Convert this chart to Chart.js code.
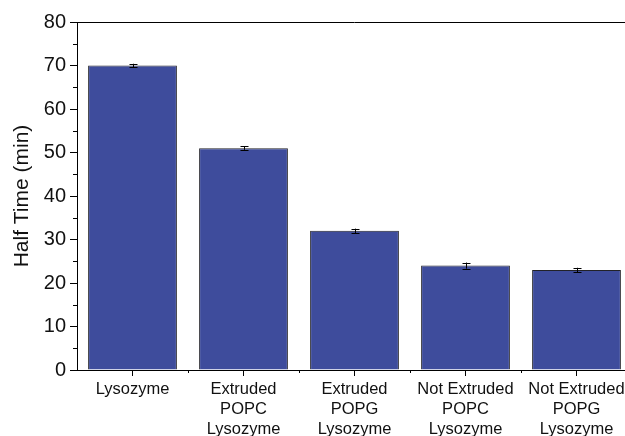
<!DOCTYPE html>
<html>
<head>
<meta charset="utf-8">
<script src="https://cdn.jsdelivr.net/npm/chart.js@4.4.1/dist/chart.umd.min.js"></script>
<style>
    html, body { margin: 0; padding: 0; background: #fff; overflow: hidden; }
    #chart { display: block; }
</style>
</head>
<body>
<canvas id="chart" width="640" height="436"></canvas>
<script>
// data
const categories = [
    ["Lysozyme"],
    ["Extruded", "POPC", "Lysozyme"],
    ["Extruded", "POPG", "Lysozyme"],
    ["Not Extruded", "POPC", "Lysozyme"],
    ["Not Extruded", "POPG", "Lysozyme"]
];
const halfTimes = [70, 51, 32, 24, 23];
const halfTimeErrors = [0.4, 0.4, 0.5, 0.7, 0.5];
const yTicksMin = 0;
const yTicksMax = 80;
const yTickStep = 10;

const FONT = "'Liberation Sans', Arial, sans-serif";

// minor ticks, top frame line and error bars
const extrasPlugin = {
    id: "extras",
    afterDatasetsDraw(chart) {
        const ctx = chart.ctx;
        const area = chart.chartArea;
        const xs = chart.scales.x;
        const ys = chart.scales.y;

        ctx.save();
        ctx.strokeStyle = "#000";
        ctx.lineWidth = 1;

        // top frame
        ctx.beginPath();
        ctx.moveTo(area.left, area.top + 0.5);
        ctx.lineTo(area.right, area.top + 0.5);
        ctx.stroke();

        // y minor ticks
        ctx.beginPath();
        for (let v = yTicksMin + yTickStep / 2; v < yTicksMax; v += yTickStep) {
            const py = Math.round(ys.getPixelForValue(v)) + 0.5;
            ctx.moveTo(area.left, py);
            ctx.lineTo(area.left - 4, py);
        }
        // x minor ticks between categories
        for (let i = 0; i < categories.length; i++) {
            const px = Math.round(xs.getPixelForValue(i + 0.5)) + 0.5;
            ctx.moveTo(px, area.bottom);
            ctx.lineTo(px, area.bottom + 3);
        }
        ctx.stroke();

        // error bars
        const meta = chart.getDatasetMeta(0);
        ctx.beginPath();
        meta.data.forEach((bar, i) => {
            const x = Math.round(bar.x) + 0.5;
            const hi = ys.getPixelForValue(halfTimes[i] + halfTimeErrors[i]);
            const lo = ys.getPixelForValue(halfTimes[i] - halfTimeErrors[i]);
            ctx.moveTo(x, hi);
            ctx.lineTo(x, lo);
            ctx.moveTo(x - 4, Math.round(hi) + 0.5);
            ctx.lineTo(x + 4, Math.round(hi) + 0.5);
            ctx.moveTo(x - 4, Math.round(lo) + 0.5);
            ctx.lineTo(x + 4, Math.round(lo) + 0.5);
        });
        ctx.stroke();
        ctx.restore();
    }
};

new Chart(document.getElementById("chart"), {
    type: "bar",
    data: {
        labels: categories,
        datasets: [{
            data: halfTimes,
            backgroundColor: "#3e4c9c",
            borderColor: "#222228",
            borderWidth: 1,
            barPercentage: 0.8,
            categoryPercentage: 1
        }]
    },
    options: {
        responsive: false,
        animation: false,
        layout: { padding: { left: 0, top: 22, right: 8, bottom: 0 } },
        plugins: {
            legend: { display: false },
            tooltip: { enabled: false }
        },
        scales: {
            x: {
                offset: true,
                grid: {
                    offset: false,
                    drawOnChartArea: false,
                    drawTicks: true,
                    tickLength: 6,
                    color: "#000"
                },
                border: { display: true, color: "#000", width: 1 },
                ticks: {
                    color: "#111",
                    font: { family: FONT, size: 16.5, lineHeight: 1.22 },
                    padding: 3,
                    maxRotation: 0,
                    autoSkip: false
                },
                afterFit(scale) { scale.height = 66; }
            },
            y: {
                min: yTicksMin,
                max: yTicksMax,
                grid: {
                    drawOnChartArea: false,
                    drawTicks: true,
                    tickLength: 7,
                    color: "#000"
                },
                border: { display: true, color: "#000", width: 1 },
                ticks: {
                    stepSize: yTickStep,
                    color: "#111",
                    font: { family: FONT, size: 20 },
                    padding: 4
                },
                title: {
                    display: true,
                    text: "Half Time (min)",
                    color: "#111",
                    font: { family: FONT, size: 21 },
                    padding: { top: 10, bottom: 0 }
                },
                afterFit(scale) { scale.width = 77; }
            }
        }
    },
    plugins: [extrasPlugin]
});
</script>
</body>
</html>
